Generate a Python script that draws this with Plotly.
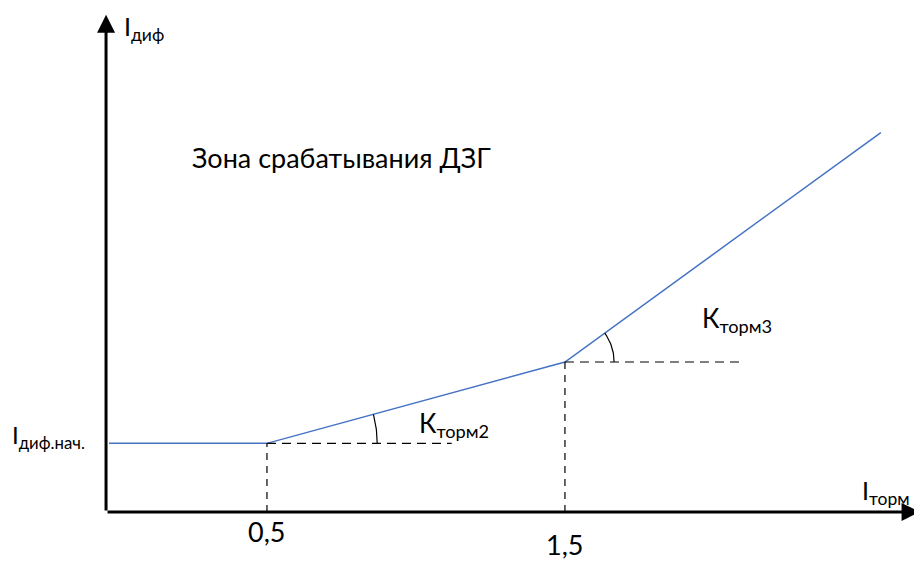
import numpy as np
import plotly.graph_objects as go

# ---- data ----
char_x = [-0.03, 0.5, 1.5, 2.56]          # I_торм break points
char_y = [0.23, 0.23, 0.503, 1.273]       # I_диф characteristic
tick_vals = [0.5, 1.5]
tick_labels = ["0,5", "1,5"]
tick_label_y = [-0.067, -0.11]
dash_ends = [1.12, 2.104]                 # end of horizontal reference dashes
arc_radius = [0.37, 0.165]
FONT = "Lato"

fig = go.Figure()

# characteristic
fig.add_trace(go.Scatter(x=char_x, y=char_y, mode="lines",
                         line=dict(color="#4472C4", width=1.5), hoverinfo="skip"))

# dashed reference lines and angle arcs
for i, xv in enumerate(tick_vals):
    k = char_x.index(xv)
    yv = char_y[k]
    fig.add_trace(go.Scatter(x=[xv, xv], y=[0, yv], mode="lines",
                             line=dict(color="black", width=1.2, dash="7px,6px"), hoverinfo="skip"))
    fig.add_trace(go.Scatter(x=[xv, dash_ends[i]], y=[yv, yv], mode="lines",
                             line=dict(color="black", width=1.2, dash="9px,6px"), hoverinfo="skip"))
    ang = np.arctan2(char_y[k + 1] - yv, char_x[k + 1] - xv)
    t = np.linspace(0, ang, 30)
    fig.add_trace(go.Scatter(x=xv + arc_radius[i] * np.cos(t), y=yv + arc_radius[i] * np.sin(t),
                             mode="lines", line=dict(color="black", width=1.2), hoverinfo="skip"))

# axes with arrows
x0, y0 = -0.04, 0.0
fig.add_annotation(x=2.69, y=y0, ax=x0, ay=y0, xref="x", yref="y", axref="x", ayref="y",
                   showarrow=True, arrowhead=2, arrowsize=1.2, arrowwidth=3, arrowcolor="black", text="")
fig.add_annotation(x=x0, y=1.668, ax=x0, ay=y0, xref="x", yref="y", axref="x", ayref="y",
                   showarrow=True, arrowhead=2, arrowsize=1.2, arrowwidth=3, arrowcolor="black", text="")

def label(txt, x, y, size, xanchor="left"):
    fig.add_annotation(x=x, y=y, xref="x", yref="y", text=txt, showarrow=False,
                       xanchor=xanchor, yanchor="middle",
                       font=dict(family=FONT, size=size, color="black"))

label("I<sub>диф</sub>", 0.013, 1.624, 25)
label("I<sub>диф.нач.</sub>", -0.362, 0.252, 24)
label("Зона срабатывания ДЗГ", 0.242, 1.19, 27)
label("К<sub>торм2</sub>", 1.003, 0.292, 26)
label("К<sub>торм3</sub>", 1.953, 0.644, 26)
label("I<sub>торм</sub>", 2.49, 0.067, 25)
for v, lab, ly in zip(tick_vals, tick_labels, tick_label_y):
    label(lab, v, ly, 27, xanchor="center")

fig.update_layout(width=922, height=562, margin=dict(l=0, r=0, t=0, b=0),
                  paper_bgcolor="white", plot_bgcolor="white", showlegend=False,
                  xaxis=dict(range=[-0.369, 2.725], visible=False),
                  yaxis=dict(range=[-0.195, 1.691], visible=False))
fig.write_html("out.html")
